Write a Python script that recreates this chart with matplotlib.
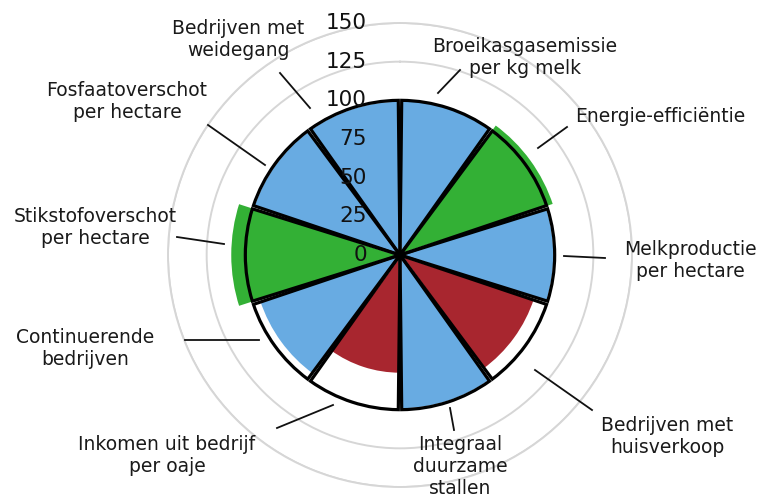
import numpy as np
import matplotlib
matplotlib.use("Agg")
import matplotlib.pyplot as plt
from matplotlib.lines import Line2D
from matplotlib.transforms import ScaledTranslation

# indicatoren, met de klok mee vanaf 12 uur
categories = ["Broeikasgasemissie\nper kg melk", "Energie-efficiëntie",
              "Melkproductie\nper hectare", "Bedrijven met\nhuisverkoop",
              "Integraal\nduurzame\nstallen", "Inkomen uit bedrijf\nper oaje",
              "Continuerende\nbedrijven", "Stikstofoverschot\nper hectare",
              "Fosfaatoverschot\nper hectare", "Bedrijven met\nweidegang"]
values = [101, 105, 100, 92, 100, 77, 96, 110, 100, 100]
reference = [100] * 10
colors = ["#68abe2", "#33b035", "#68abe2", "#a8262f", "#68abe2",
          "#a8262f", "#68abe2", "#33b035", "#68abe2", "#68abe2"]
rticks = [0, 25, 50, 75, 100, 125, 150]

# label layout in pixels (tekstcentrum, begin en eind van de hulplijn)
label_pos = [(525, 57), (660, 116), (690, 260), (667, 436), (460, 466),
             (167, 455), (85, 348), (95, 228), (127, 101), (238, 39)]
leader = [((438, 93), (460, 70)), ((538, 148), (567, 127)),
          ((564, 256), (605, 258)), ((535, 370), (592, 410)),
          ((450, 408), (454, 430)), ((333, 405), (277, 428)),
          ((185, 340), (259, 340)), ((177, 237), (224, 244)),
          ((208, 125), (265, 165)), ((280, 73), (310, 108))]

W, H = 760, 498
fig = plt.figure(figsize=(W / 100, H / 100), dpi=100)
cx, cy, R = 400, 255, 232
ax = fig.add_axes([(cx - R) / W, (H - cy - R) / H, 2 * R / W, 2 * R / H],
                  projection="polar")
ax.set_theta_zero_location("N")
ax.set_theta_direction(-1)
ax.set_ylim(0, 150)
ax.set_axisbelow(True)

n = len(categories)
width = 2 * np.pi / n
theta = np.arange(n) * width + width / 2

# witte achtergrond tot 100, gekleurde waarde, zwarte rand op 100
ax.bar(theta, reference, width=width, color="white", edgecolor="none", zorder=2)
ax.bar(theta, values, width=width, color=colors, edgecolor="white",
       linewidth=2.0, zorder=3)
ax.bar(theta, reference, width=width - 0.022, color="none", edgecolor="black",
       linewidth=2.3, zorder=4)

ax.set_xticks([])
ax.set_yticks(rticks[1:])
ax.set_yticklabels([])
ax.yaxis.grid(True, color="#d6d6d6", linewidth=1.4)
ax.spines["polar"].set_color("#d6d6d6")
ax.spines["polar"].set_linewidth(1.4)

off = ax.transData + ScaledTranslation(-33 / 100, 0, fig.dpi_scale_trans)
for r in rticks:
    ax.text(0, r, str(r), transform=off, ha="right", va="center",
            fontsize=15.5, color="#111111", zorder=6)

for lab, (x, y), (p0, p1) in zip(categories, label_pos, leader):
    fig.text(x / W, 1 - y / H, lab, ha="center", va="center", fontsize=13.5,
             color="#1a1a1a", linespacing=1.2)
    fig.add_artist(Line2D([p0[0] / W, p1[0] / W], [1 - p0[1] / H, 1 - p1[1] / H],
                          transform=fig.transFigure, color="#111111", lw=1.3))

fig.savefig("out.png", dpi=100)
